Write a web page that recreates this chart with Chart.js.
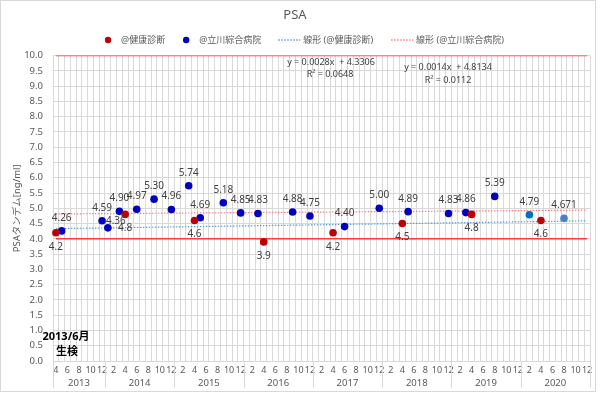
<!DOCTYPE html>
<html>
<head>
<meta charset="utf-8">
<script src="https://cdn.jsdelivr.net/npm/chart.js@4.4.1/dist/chart.umd.min.js"></script>
<style>
  html, body { margin: 0; padding: 0; background: #fff; }
  #wrap { width: 600px; height: 393px; }
</style>
</head>
<body>
<div id="wrap"><canvas id="psaChart" width="600" height="393"></canvas></div>
<script>
// axis range (month categories)
const startYear = 2013, startMonth = 4;
const endYear = 2020, endMonth = 12;

// @健康診断
const kenshinDates = ['2013-04', '2014-04', '2015-04', '2016-04', '2017-04', '2018-04', '2019-04', '2020-04'];
const kenshinValues = ['4.2', '4.8', '4.6', '3.9', '4.2', '4.5', '4.8', '4.6'];

// @立川綜合病院
const tachikawaDates = [
  '2013-05', '2013-12', '2014-01', '2014-03', '2014-06', '2014-09', '2014-12', '2015-03',
  '2015-05', '2015-09', '2015-12', '2016-03', '2016-09', '2016-12', '2017-06', '2017-12',
  '2018-05', '2018-12', '2019-03', '2019-08', '2020-02', '2020-08'
];
const tachikawaValues = [
  '4.26', '4.59', '4.36', '4.90', '4.97', '5.30', '4.96', '5.74',
  '4.69', '5.18', '4.85', '4.83', '4.88', '4.75', '4.40', '5.00',
  '4.89', '4.83', '4.86', '5.39', '4.79', '4.671'
];

// reference lines
const limitValues = [4.0, 10.0];

// trendline captions as printed
const kenshinEquation = ['y = 0.0028x  + 4.3306', 'R² = 0.0648'];
const tachikawaEquation = ['y = 0.0014x  + 4.8134', 'R² = 0.0112'];

const FONT = "'Noto Sans', 'Noto Sans CJK JP', sans-serif";
const RED = '#c00000';
const BLUE = '#0000c0';
const tachikawaColors = tachikawaValues.map((v, i) =>
  i === tachikawaValues.length - 2 ? '#0070c0' : i === tachikawaValues.length - 1 ? '#4a7fcf' : BLUE);

// month labels 'YYYY-MM'
const months = [];
for (let y = startYear; y <= endYear; y++) {
  for (let m = (y === startYear ? startMonth : 1); m <= (y === endYear ? endMonth : 12); m++) {
    months.push(y + '-' + String(m).padStart(2, '0'));
  }
}

function linearFit(dates, values) {
  const xs = dates.map(d => months.indexOf(d) + 1);
  const ys = values.map(Number);
  const n = xs.length;
  const mx = xs.reduce((a, b) => a + b, 0) / n;
  const my = ys.reduce((a, b) => a + b, 0) / n;
  let sxy = 0, sxx = 0;
  for (let i = 0; i < n; i++) {
    sxy += (xs[i] - mx) * (ys[i] - my);
    sxx += (xs[i] - mx) * (xs[i] - mx);
  }
  const slope = sxy / sxx;
  return { slope: slope, intercept: my - slope * mx };
}

function trendData(fit) {
  const last = months.length - 1;
  return [
    { x: months[0], y: fit.intercept + fit.slope * 1 },
    { x: months[last], y: fit.intercept + fit.slope * (last + 1) }
  ];
}

const kenshinFit = linearFit(kenshinDates, kenshinValues);
const tachikawaFit = linearFit(tachikawaDates, tachikawaValues);

const limitSets = limitValues.map(v => ({
  label: 'limit' + v,
  data: [{ x: months[0], y: v }, { x: months[months.length - 1], y: v }],
  borderColor: '#ff3b3b',
  borderWidth: 1.5,
  pointRadius: 0,
  showLine: true,
  fill: false
}));

// labels that sit up-right instead of above
const labelShift = { '2014-01': [8, 6] };

const pointLabels = {
  id: 'pointLabels',
  afterDatasetsDraw(chart) {
    const ctx = chart.ctx;
    ctx.save();
    ctx.font = '10px ' + FONT;
    ctx.fillStyle = '#404040';
    ctx.textAlign = 'center';
    ctx.textBaseline = 'middle';
    chart.getDatasetMeta(0).data.forEach((pt, i) => {
      ctx.fillText(kenshinValues[i], pt.x, pt.y + 14);
    });
    chart.getDatasetMeta(1).data.forEach((pt, i) => {
      const s = labelShift[tachikawaDates[i]] || [0, 0];
      ctx.fillText(tachikawaValues[i], pt.x + s[0], pt.y - 13 + s[1]);
    });
    ctx.restore();
  }
};

const extras = {
  id: 'extras',
  afterDraw(chart) {
    const ctx = chart.ctx;
    const xs = chart.scales.x;
    const area = chart.chartArea;
    const w = (area.right - area.left) / months.length;
    ctx.save();

    // year separators and year labels
    ctx.strokeStyle = '#d9d9d9';
    ctx.lineWidth = 1;
    ctx.font = '9.5px ' + FONT;
    ctx.fillStyle = '#595959';
    ctx.textAlign = 'center';
    ctx.textBaseline = 'middle';
    for (let y = startYear; y <= endYear; y++) {
      const first = months.findIndex(m => m.startsWith(y + '-'));
      const last = months.length - 1 - [...months].reverse().findIndex(m => m.startsWith(y + '-'));
      const x0 = xs.getPixelForValue(first) - w / 2;
      const x1 = xs.getPixelForValue(last) + w / 2;
      ctx.beginPath();
      ctx.moveTo(Math.round(x0) + 0.5, area.bottom);
      ctx.lineTo(Math.round(x0) + 0.5, 388);
      if (y === endYear) {
        ctx.moveTo(Math.round(x1) + 0.5, area.bottom);
        ctx.lineTo(Math.round(x1) + 0.5, 388);
      }
      ctx.stroke();
      ctx.fillText(String(y), (x0 + x1) / 2, 383);
    }

    // trendline equations
    ctx.font = '9px ' + FONT;
    ctx.fillStyle = '#404040';
    ctx.fillText(kenshinEquation[0], 331, 62);
    ctx.fillText(kenshinEquation[1], 330, 74);
    ctx.fillText(tachikawaEquation[0], 448, 67);
    ctx.fillText(tachikawaEquation[1], 448, 80);

    // biopsy note
    ctx.font = 'bold 11px ' + FONT;
    ctx.fillStyle = '#000';
    ctx.fillText('2013/6月', 66, 337);
    ctx.fillText('生検', 67, 352);

    // legend
    const items = [
      { kind: 'dot', color: RED, text: '@健康診断' },
      { kind: 'dot', color: BLUE, text: '@立川綜合病院' },
      { kind: 'line', color: '#5b9bd5', text: '線形 (@健康診断)' },
      { kind: 'line', color: '#ff7c80', text: '線形 (@立川綜合病院)' }
    ];
    ctx.font = '9px ' + FONT;
    ctx.textAlign = 'left';
    const gap = 18;
    const widths = items.map(it => (it.kind === 'dot' ? 16 : 25) + ctx.measureText(it.text).width);
    let x = 304 - (widths.reduce((a, b) => a + b, 0) + gap * (items.length - 1)) / 2;
    const ly = 40;
    items.forEach((it, i) => {
      if (it.kind === 'dot') {
        ctx.fillStyle = it.color;
        ctx.beginPath();
        ctx.arc(x + 4, ly, 3.2, 0, Math.PI * 2);
        ctx.fill();
        ctx.fillStyle = '#595959';
        ctx.fillText(it.text, x + 17, ly);
      } else {
        ctx.strokeStyle = it.color;
        ctx.lineWidth = 1.5;
        ctx.setLineDash([1.5, 1.5]);
        ctx.beginPath();
        ctx.moveTo(x, ly);
        ctx.lineTo(x + 22, ly);
        ctx.stroke();
        ctx.setLineDash([]);
        ctx.fillStyle = '#595959';
        ctx.fillText(it.text, x + 25, ly);
      }
      x += widths[i] + gap;
    });

    // chart border
    ctx.strokeStyle = '#d9d9d9';
    ctx.lineWidth = 1;
    ctx.strokeRect(0.5, 0.5, 595, 391);
    ctx.restore();
  }
};

const config = {
  type: 'line',
  data: {
    labels: months,
    datasets: [
      {
        label: '@健康診断',
        data: kenshinDates.map((d, i) => ({ x: d, y: Number(kenshinValues[i]) })),
        showLine: false,
        pointRadius: 3.8,
        pointHoverRadius: 3.8,
        pointBorderWidth: 0,
        pointBackgroundColor: RED,
        borderColor: RED
      },
      {
        label: '@立川綜合病院',
        data: tachikawaDates.map((d, i) => ({ x: d, y: Number(tachikawaValues[i]) })),
        showLine: false,
        pointRadius: 3.8,
        pointHoverRadius: 3.8,
        pointBorderWidth: 0,
        pointBackgroundColor: tachikawaColors,
        borderColor: BLUE
      },
      {
        label: '線形 (@健康診断)',
        data: trendData(kenshinFit),
        borderColor: '#5b9bd5',
        borderWidth: 1.2,
        borderDash: [1.5, 1.5],
        pointRadius: 0
      },
      {
        label: '線形 (@立川綜合病院)',
        data: trendData(tachikawaFit),
        borderColor: '#ff7c80',
        borderWidth: 1.2,
        borderDash: [1.5, 1.5],
        pointRadius: 0
      },
      ...limitSets
    ]
  },
  options: {
    responsive: false,
    animation: false,
    devicePixelRatio: 1,
    layout: { padding: { left: 0, right: 10, top: 0, bottom: 0 } },
    plugins: {
      legend: { display: false },
      tooltip: { enabled: false },
      title: {
        display: true,
        text: 'PSA',
        color: '#595959',
        font: { family: FONT, size: 13, weight: 'normal' },
        padding: { top: 7, bottom: 33 }
      }
    },
    scales: {
      x: {
        type: 'category',
        offset: true,
        grid: { offset: true, color: '#d9d9d9', drawTicks: false },
        border: { color: '#d9d9d9' },
        ticks: {
          autoSkip: false,
          maxRotation: 0,
          padding: 4,
          color: '#595959',
          font: { family: FONT, size: 9 },
          callback: function (value) {
            const m = Number(this.getLabelForValue(value).slice(5));
            return m % 2 === 0 ? String(m) : '';
          }
        },
        afterFit: function (scale) { scale.height = 32; }
      },
      y: {
        min: 0,
        max: 10,
        grid: { color: '#d9d9d9', drawTicks: false },
        border: { display: false },
        ticks: {
          stepSize: 0.5,
          padding: 10,
          color: '#595959',
          font: { family: FONT, size: 9.5 },
          callback: v => v.toFixed(1)
        },
        title: {
          display: true,
          text: 'PSAタンデム[ng/ml]',
          color: '#595959',
          font: { family: FONT, size: 9.5 },
          padding: { top: 12, bottom: 0 }
        },
        afterFit: function (scale) { scale.width = 53; }
      }
    }
  },
  plugins: [pointLabels, extras]
};

new Chart(document.getElementById('psaChart').getContext('2d'), config);
</script>
</body>
</html>
